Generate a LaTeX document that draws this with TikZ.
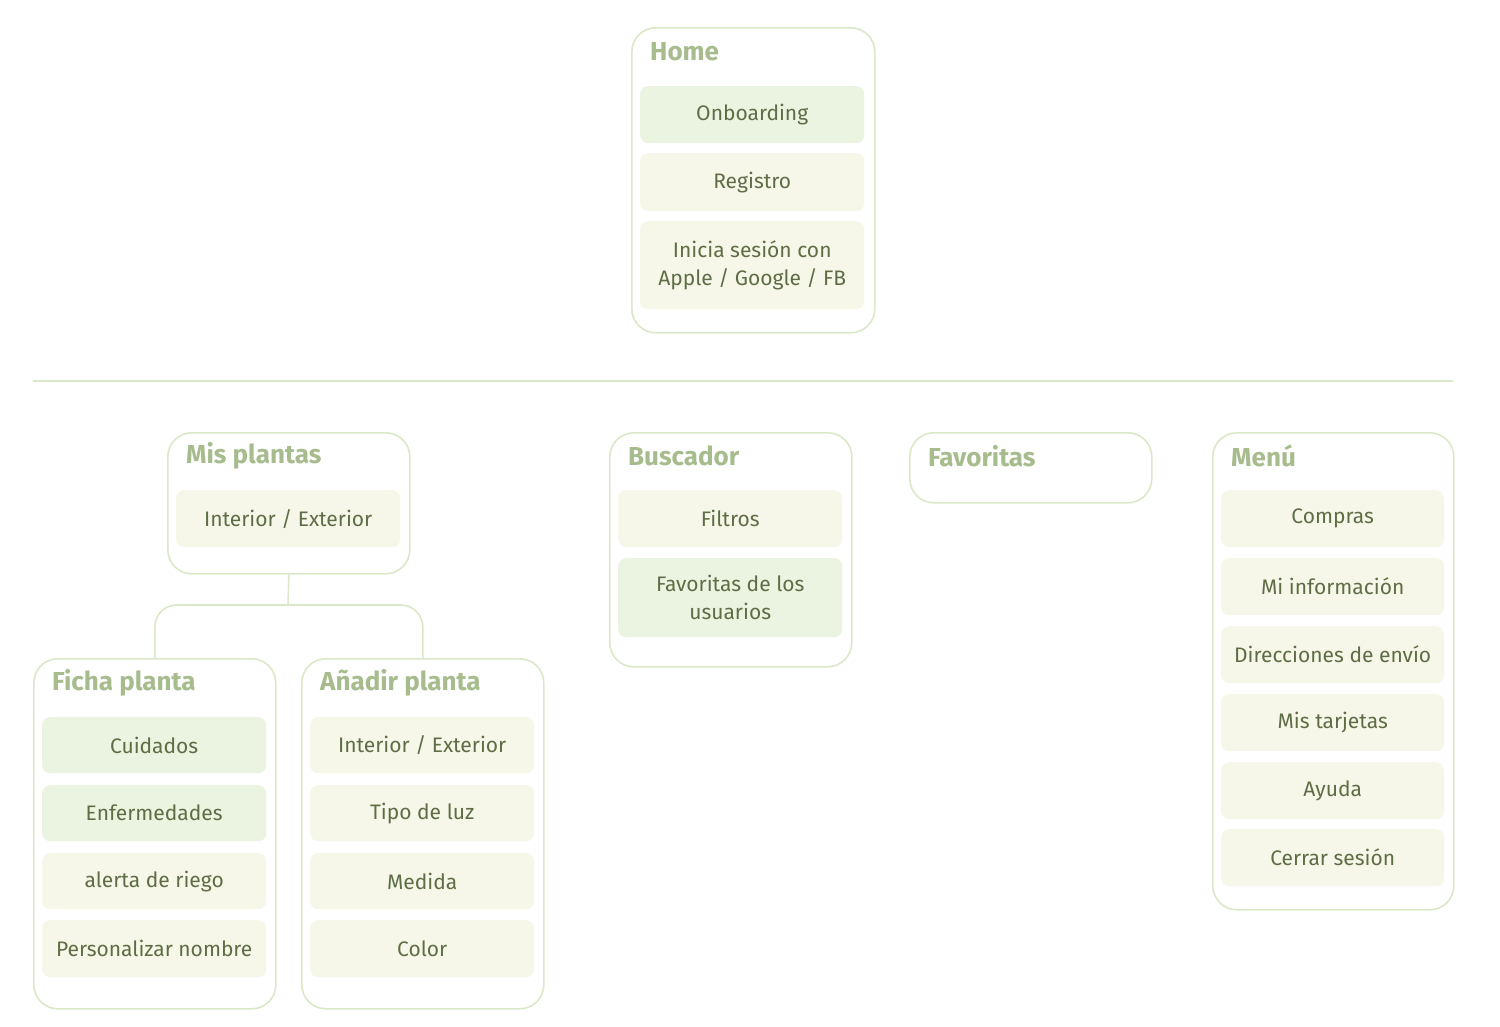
\documentclass[tikz,border=0pt]{standalone}
\usepackage{fontspec}
\setmainfont{Fira Sans}
\definecolor{edge}{HTML}{DAE8C7}
\definecolor{titlec}{HTML}{A7BC8D}
\definecolor{textc}{HTML}{5E6D45}
\definecolor{fillg}{HTML}{EBF3E1}
\definecolor{fillc}{HTML}{F6F7E8}
\begin{document}
\begin{tikzpicture}[x=1pt,y=-1pt,
  group/.style={draw=edge,line width=1.6pt,rounded corners=24pt,fill=white,anchor=north west,inner sep=0pt},
  gtitle/.style={anchor=west,inner sep=0pt,font=\fontsize{26}{30}\selectfont\bfseries,text=titlec},
  itemc/.style={fill=fillc,rounded corners=8pt,anchor=north west,inner sep=0pt,align=center,text=textc,font=\fontsize{21}{28}\selectfont},
  itemg/.style={itemc,fill=fillg},
  link/.style={draw=edge,line width=1.6pt}]
\useasboundingbox (0,0) rectangle (1500,1026);
% Home
\node[group,minimum width=243pt,minimum height=305pt] (home) at (631,27) {};
\node[gtitle] (homet) at (650,52) {Home};
\node[itemg,minimum width=224pt,minimum height=57pt] (onb) at (640,86) {Onboarding};
\node[itemc,minimum width=224pt,minimum height=58pt] (reg) at (640,153) {Registro};
\node[itemc,minimum width=224pt,minimum height=88pt] (ini) at (640,221) {Inicia sesión con\\Apple / Google / FB};
% divider
\coordinate (dl) at (33,381);
\coordinate (dr) at (1453,381);
\draw[link] (dl) -- (dr);
% Mis plantas
\node[group,minimum width=242pt,minimum height=141pt] (mis) at (167,432) {};
\node[gtitle] (mist) at (186,456) {Mis plantas};
\node[itemc,minimum width=224pt,minimum height=57pt] (misie) at (176,490) {Interior / Exterior};
% Ficha planta
\node[group,minimum width=242pt,minimum height=350pt] (ficha) at (33,658) {};
\node[gtitle] (fichat) at (52,683) {Ficha planta};
\node[itemg,minimum width=224pt,minimum height=56pt] (cui) at (42,717) {Cuidados};
\node[itemg,minimum width=224pt,minimum height=56pt] (enf) at (42,785) {Enfermedades};
\node[itemc,minimum width=224pt,minimum height=56pt] (ale) at (42,853) {alerta de riego};
\node[itemc,minimum width=224pt,minimum height=57pt] (per) at (42,920) {Personalizar nombre};
% Añadir planta
\node[group,minimum width=242pt,minimum height=350pt] (anadir) at (301,658) {};
\node[gtitle] (anadirt) at (320,683) {Añadir planta};
\node[itemc,minimum width=224pt,minimum height=56pt] (aie) at (310,717) {Interior / Exterior};
\node[itemc,minimum width=224pt,minimum height=56pt] (luz) at (310,785) {Tipo de luz};
\node[itemc,minimum width=224pt,minimum height=56pt] (med) at (310,853) {Medida};
\node[itemc,minimum width=224pt,minimum height=57pt] (col) at (310,920) {Color};
% connector
\coordinate (fork) at (288,605);
\draw[link] (mis.south) -- (fork);
\draw[link,rounded corners=22pt] (ficha.north) |- (fork) -| (anadir.north);
% Buscador
\node[group,minimum width=242pt,minimum height=234pt] (bus) at (609,432) {};
\node[gtitle] (bust) at (628,456) {Buscador};
\node[itemc,minimum width=224pt,minimum height=57pt] (fil) at (618,490) {Filtros};
\node[itemg,minimum width=224pt,minimum height=79pt] (fav) at (618,558) {Favoritas de los\\usuarios};
% Favoritas
\node[group,minimum width=242pt,minimum height=70pt] (favs) at (909,432) {};
\node[gtitle] (favst) at (928,456) {Favoritas};
% Menú
\node[group,minimum width=241pt,minimum height=477pt] (menu) at (1212,432) {};
\node[gtitle] (menut) at (1231,456) {Menú};
\node[itemc,minimum width=223pt,minimum height=57pt] (com) at (1221,490) {Compras};
\node[itemc,minimum width=223pt,minimum height=57pt] (inf) at (1221,558) {Mi información};
\node[itemc,minimum width=223pt,minimum height=57pt] (dir) at (1221,626) {Direcciones de envío};
\node[itemc,minimum width=223pt,minimum height=57pt] (tar) at (1221,694) {Mis tarjetas};
\node[itemc,minimum width=223pt,minimum height=57pt] (ayu) at (1221,762) {Ayuda};
\node[itemc,minimum width=223pt,minimum height=57pt] (cer) at (1221,829) {Cerrar sesión};
\end{tikzpicture}
\end{document}
